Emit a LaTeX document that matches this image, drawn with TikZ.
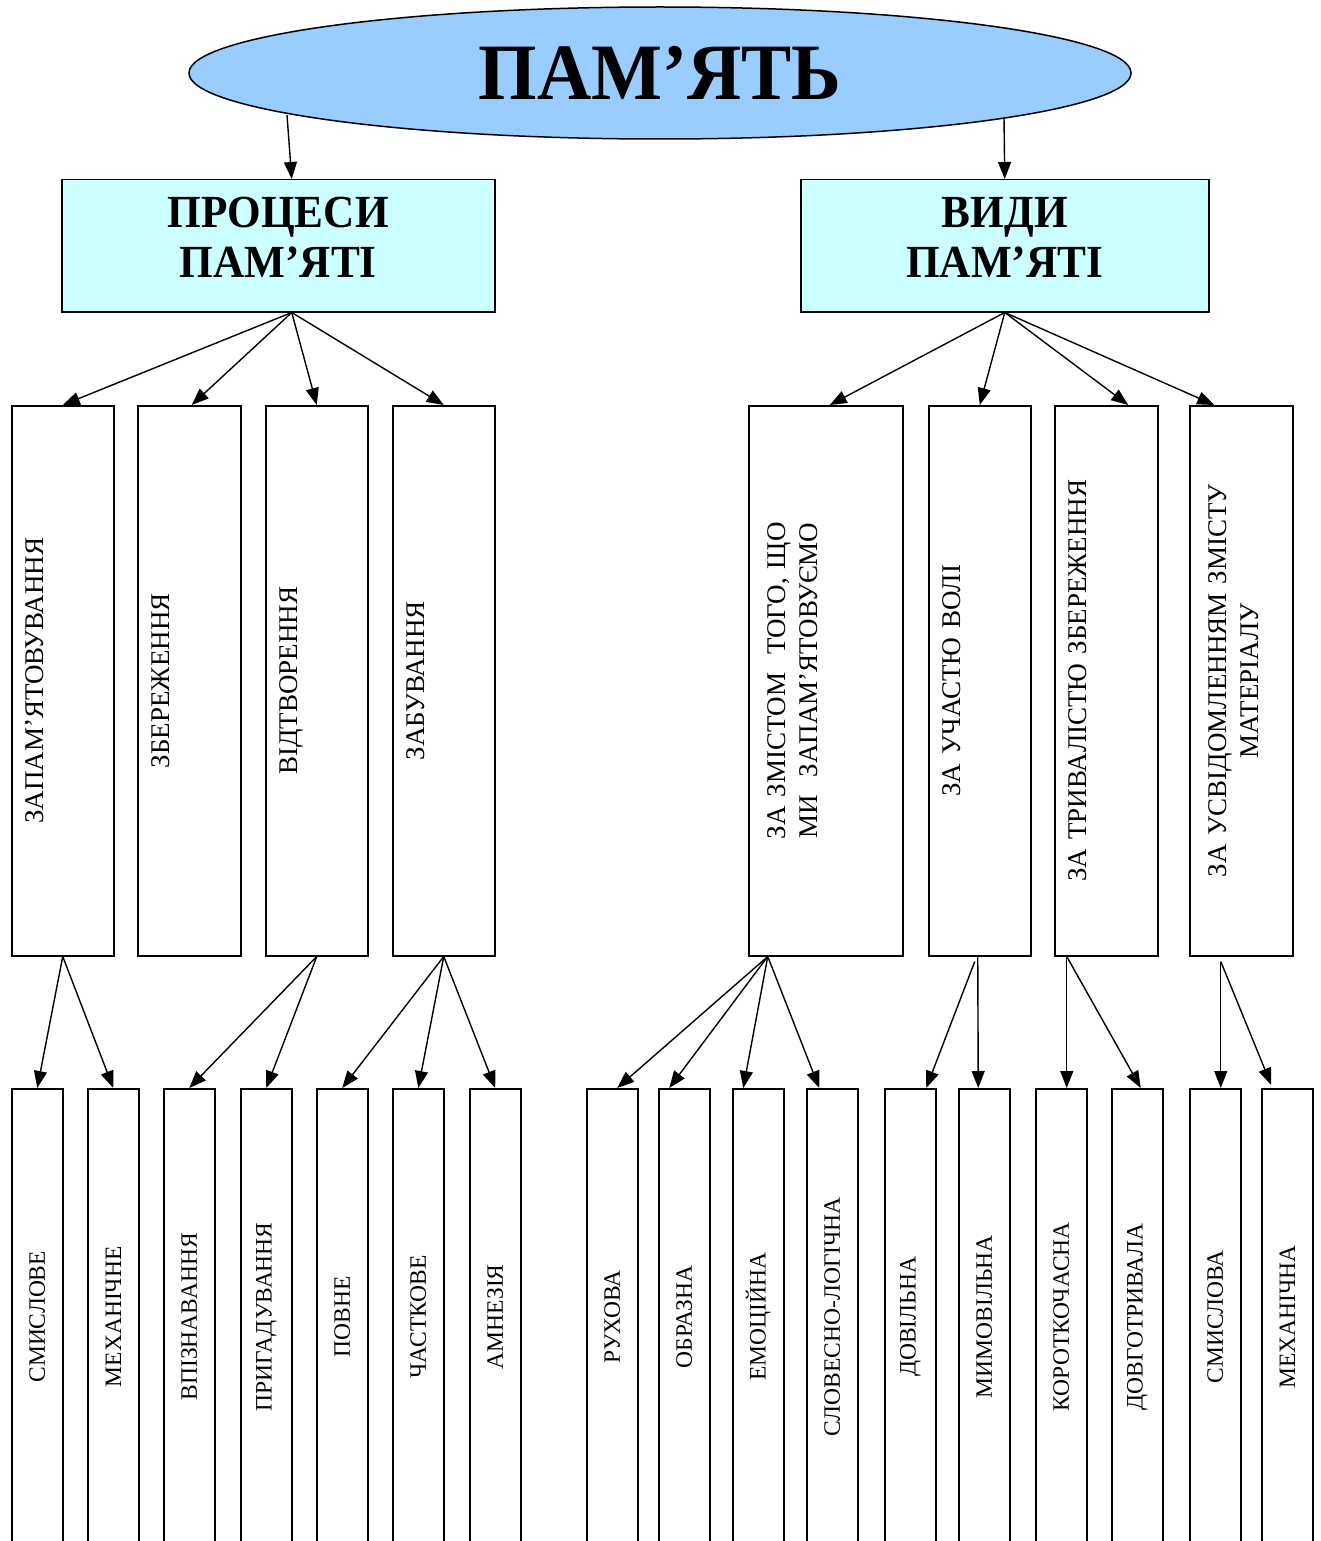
\documentclass[tikz,border=0pt]{standalone}
\usepackage{fontspec}
\setmainfont{Liberation Serif}
\newfontfamily\headfont[FakeStretch=0.94]{Liberation Serif}
\usetikzlibrary{arrows.meta,shapes.geometric}
\definecolor{skyfill}{RGB}{153,204,255}
\definecolor{cyanfill}{RGB}{204,255,255}
\frenchspacing
\begin{document}
\begin{tikzpicture}[x=1pt,y=-1pt,
  head/.style={draw,line width=1.5pt,fill=cyanfill,anchor=north west,minimum height=132pt},
  headtxt/.style={align=center,inner sep=0pt,font=\headfont\bfseries\fontsize{46}{50}\selectfont},
  kind/.style={draw,line width=1.5pt,anchor=north west,minimum height=550pt,inner xsep=14pt,align=left,font=\fontsize{27}{32}\selectfont},
  leaf/.style={draw,line width=1.5pt,anchor=north west,minimum width=51pt,minimum height=456pt,font=\fontsize{23.5}{28}\selectfont},
  arr/.style={line width=1.4pt,-{Triangle[length=17pt,width=13pt]}}]
  \path[use as bounding box] (0,0) rectangle (1320,1541);
  \clip (0,0) rectangle (1320,1541);

  % top
  \node[ellipse,draw,line width=1.5pt,fill=skyfill,minimum width=942pt,minimum height=132pt,inner sep=0pt,
    font=\headfont\bfseries\fontsize{80}{85}\selectfont] (mem) at (660,73) {ПАМ’ЯТЬ};
  \node[head,minimum width=433pt] (proc) at (61,179) {};
  \node[headtxt] (proct) at ([yshift=8pt]proc.center) {ПРОЦЕСИ\\ПАМ’ЯТІ};
  \node[head,minimum width=408pt] (vydy) at (800,179) {};
  \node[headtxt] (vydyt) at ([yshift=8pt]vydy.center) {ВИДИ\\ПАМ’ЯТІ};
  \draw[arr] ([xshift=-373pt,yshift=-42pt]mem.center) -- ([xshift=13.5pt]proc.north);
  \draw[arr] ([xshift=344pt,yshift=-45pt]mem.center) -- (vydy.north);

  % processes
  \node[kind,text width=74pt] (zap) at (11,405) {\rotatebox{90}{ЗАПАМ’ЯТОВУВАННЯ}};
  \node[kind,text width=75pt] (zber) at (137,405) {\rotatebox{90}{ЗБЕРЕЖЕННЯ}};
  \node[kind,text width=74pt] (vidt) at (265,405) {\rotatebox{90}{ВІДТВОРЕННЯ}};
  \node[kind,text width=74pt] (zab) at (392,405) {\rotatebox{90}{ЗАБУВАННЯ}};
  \draw[arr] ([xshift=13.5pt]proc.south) -- (zap.north);
  \draw[arr] ([xshift=13.5pt]proc.south) -- ([xshift=2.5pt]zber.north);
  \draw[arr] ([xshift=13.5pt]proc.south) -- (vidt.north);
  \draw[arr] ([xshift=13.5pt]proc.south) -- (zab.north);

  % kinds
  \node[kind,text width=126pt] (zmist) at (748,405)
    {\rotatebox{90}{\begin{tabular}{@{}c@{}}ЗА ЗМІСТОМ~~ТОГО, ЩО\\МИ~~ЗАПАМ’ЯТОВУЄМО\end{tabular}}};
  \node[kind,text width=74pt] (volya) at (928,405) {\rotatebox{90}{ЗА УЧАСТЮ ВОЛІ}};
  \node[kind,text width=75pt] (tryv) at (1054,405) {\rotatebox{90}{ЗА ТРИВАЛІСТЮ ЗБЕРЕЖЕННЯ}};
  \node[kind,text width=75pt] (usv) at (1189,405)
    {\rotatebox{90}{\begin{tabular}{@{}c@{}}ЗА УСВІДОМЛЕННЯМ ЗМІСТУ\\МАТЕРІАЛУ\end{tabular}}};
  \draw[arr] (vydy.south) -- ([xshift=4pt]zmist.north);
  \draw[arr] (vydy.south) -- (volya.north);
  \draw[arr] (vydy.south) -- ([xshift=22pt]tryv.north);
  \draw[arr] (vydy.south) -- ([xshift=-27pt]usv.north);

  % leaves of processes
  \node[leaf] (smysl) at (11,1088) {\rotatebox{90}{СМИСЛОВЕ}};
  \node[leaf] (mekh) at (87,1088) {\rotatebox{90}{МЕХАНІЧНЕ}};
  \node[leaf] (vpiz) at (163,1088) {\rotatebox{90}{ВПІЗНАВАННЯ}};
  \node[leaf] (pryh) at (240,1088) {\rotatebox{90}{ПРИГАДУВАННЯ}};
  \node[leaf] (povne) at (316,1088) {\rotatebox{90}{ПОВНЕ}};
  \node[leaf] (chast) at (392,1088) {\rotatebox{90}{ЧАСТКОВЕ}};
  \node[leaf] (amn) at (469,1088) {\rotatebox{90}{АМНЕЗІЯ}};
  \draw[arr] (zap.south) -- (smysl.north);
  \draw[arr] (zap.south) -- (mekh.north);
  \draw[arr] (vidt.south) -- (vpiz.north);
  \draw[arr] (vidt.south) -- (pryh.north);
  \draw[arr] (zab.south) -- (povne.north);
  \draw[arr] (zab.south) -- (chast.north);
  \draw[arr] (zab.south) -- (amn.north);

  % leaves of kinds
  \node[leaf] (rukh) at (586,1088) {\rotatebox{90}{РУХОВА}};
  \node[leaf] (obraz) at (658,1088) {\rotatebox{90}{ОБРАЗНА}};
  \node[leaf] (emoc) at (732,1088) {\rotatebox{90}{ЕМОЦІЙНА}};
  \node[leaf] (slov) at (806,1088) {\rotatebox{90}{СЛОВЕСНО-ЛОГІЧНА}};
  \node[leaf] (dovil) at (884,1088) {\rotatebox{90}{ДОВІЛЬНА}};
  \node[leaf] (mymov) at (958,1088) {\rotatebox{90}{МИМОВІЛЬНА}};
  \node[leaf] (korot) at (1035,1088) {\rotatebox{90}{КОРОТКОЧАСНА}};
  \node[leaf] (dovh) at (1111,1088) {\rotatebox{90}{ДОВГОТРИВАЛА}};
  \node[leaf] (smysla) at (1189,1088) {\rotatebox{90}{СМИСЛОВА}};
  \node[leaf] (mekha) at (1261,1088) {\rotatebox{90}{МЕХАНІЧНА}};
  \draw[arr] ([xshift=-58pt]zmist.south) -- ([xshift=5pt]rukh.north);
  \draw[arr] ([xshift=-58pt]zmist.south) -- ([xshift=-15pt]obraz.north);
  \draw[arr] ([xshift=-58pt]zmist.south) -- ([xshift=-15pt]emoc.north);
  \draw[arr] ([xshift=-58pt]zmist.south) -- ([xshift=-13pt]slov.north);
  \draw[arr] ([xshift=-5pt,yshift=-5pt]volya.south) -- ([xshift=16pt]dovil.north);
  \draw[arr] ([xshift=-2pt]volya.south) -- ([xshift=-6pt]mymov.north);
  \draw[arr] ([xshift=-39.5pt]tryv.south) -- ([xshift=5.5pt]korot.north);
  \draw[arr] ([xshift=-39.5pt]tryv.south) -- ([xshift=3.5pt]dovh.north);
  \draw[arr] ([xshift=-20.5pt,yshift=-5pt]usv.south) -- ([xshift=5.5pt]smysla.north);
  \draw[arr] ([xshift=-20.5pt,yshift=-5pt]usv.south) -- ([xshift=-16pt,yshift=3pt]mekha.north);
\end{tikzpicture}
\end{document}
